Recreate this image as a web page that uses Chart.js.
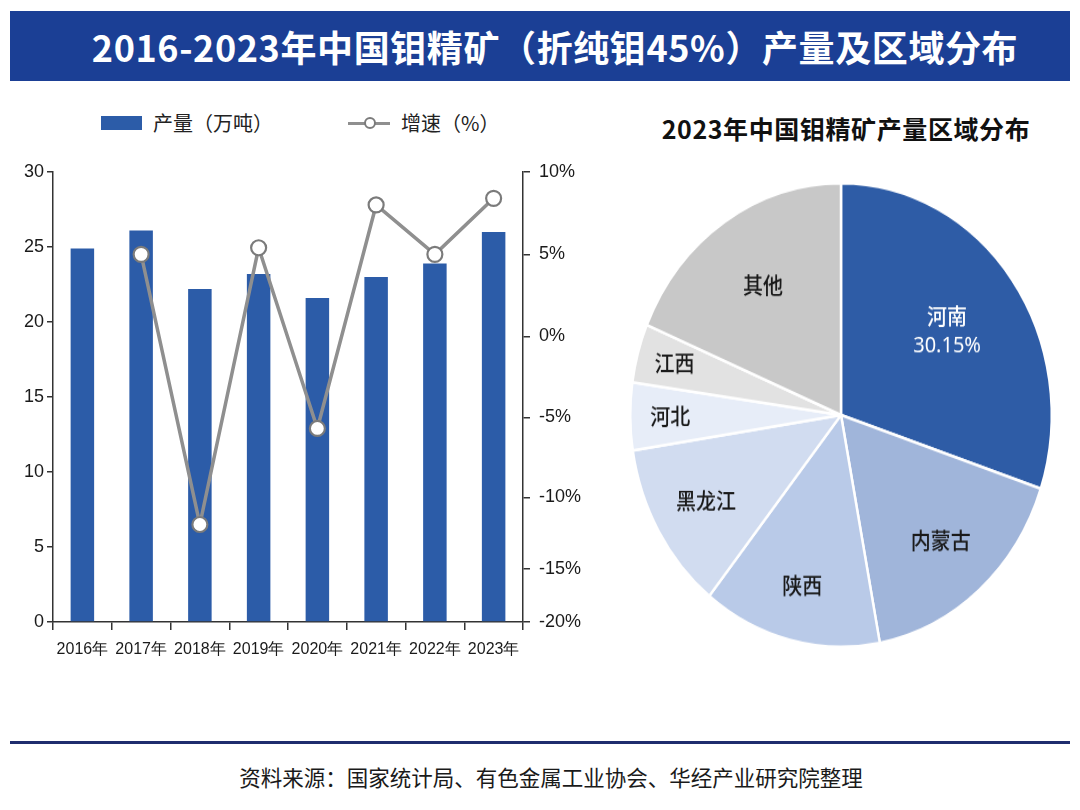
<!DOCTYPE html>
<html>
<head>
<meta charset="utf-8">
<script src="https://cdn.jsdelivr.net/npm/chart.js@4.4.1/dist/chart.umd.min.js"></script>
<style>
  html, body { margin:0; padding:0; background:#fff; width:1080px; height:810px; overflow:hidden;
    font-family:"Noto Sans CJK SC","Noto Sans",sans-serif; }
  .abs { position:absolute; }
  #header { left:10px; top:11px; width:1060px; height:70px; background:#1b3f95; color:#fff;
    font-weight:700; font-size:36px; letter-spacing:0.6px; line-height:70px; text-align:center;
    box-sizing:border-box; padding-left:30px; white-space:nowrap; }
  #pieTitle { left:600px; top:110px; width:492px; text-align:center; font-weight:700; font-size:25px;
    letter-spacing:0.6px; line-height:36px; color:#111; white-space:nowrap; }
  .legText { font-size:20px; line-height:26px; color:#222; white-space:nowrap; }
  #footLine { left:10px; top:741px; width:1060px; height:3px; background:#1f2d6e; }
  #footText { left:0px; top:763px; width:1102px; text-align:center; font-size:21.5px; line-height:28px; color:#1a1a1a; white-space:nowrap; }
  #barWrap { left:0px; top:150px; width:600px; height:520px; }
  #pieWrap { left:621px; top:195px; width:440px; height:440px; transform:scaleY(1.1); transform-origin:50% 50%; }
</style>
</head>
<body>
<div id="header" class="abs">2016-2023年中国钼精矿（折纯钼45%）产量及区域分布</div>
<div id="pieTitle" class="abs">2023年中国钼精矿产量区域分布</div>
<div id="legend"></div>
<div id="barWrap" class="abs"><canvas id="barChart"></canvas></div>
<div id="pieWrap" class="abs"><canvas id="pieChart"></canvas></div>
<div id="footLine" class="abs"></div>
<div id="footText" class="abs">资料来源：国家统计局、有色金属工业协会、华经产业研究院整理</div>

<script>
// ---------------- data ----------------
const years = ['2016年','2017年','2018年','2019年','2020年','2021年','2022年','2023年'];
const output = [24.9, 26.1, 22.2, 23.2, 21.6, 23.0, 23.9, 26.0];          // 万吨
const growth = [null, 5.0, -11.9, 5.4, -5.7, 8.0, 5.0, 8.4];               // %
const seriesNames = ['产量（万吨）', '增速（%）'];
const leftTicks = [0, 5, 10, 15, 20, 25, 30];
const rightTicks = [-20, -15, -10, -5, 0, 5, 10];
const regions = ['河南','内蒙古','陕西','黑龙江','河北','江西','其他'];
const regionShare = [30.15, 16.9, 13.7, 11.8, 4.7, 4.1, 18.65];

// ---------------- styles ----------------
const BAR_COLOR = '#2c5ca8';
const LINE_COLOR = '#8f8f8f';
const PIE_COLORS = ['#2e5ca6','#a0b5da','#b9cae8','#d1dcf0','#e7edf8','#e2e2e2','#c8c8c8'];
const PIE_LABEL_RADIUS = [0.62, 0.72, 0.76, 0.74, 0.81, 0.82, 0.67];
// right axis in the original is not evenly spaced: tick value -> fraction from top
const RIGHT_AXIS_STOPS = [[10,0],[5,0.183],[0,0.3655],[-5,0.545],[-10,0.723],[-15,0.8817],[-20,1]];

class PiecewiseLinearScale extends Chart.LinearScale {
  static id = 'piecewise';
  static defaults = {};
  _fracFromTop(v) {
    const s = RIGHT_AXIS_STOPS;
    if (v >= s[0][0]) return s[0][1] - (v - s[0][0]) / (s[0][0] - s[1][0]) * (s[1][1] - s[0][1]);
    for (let i = 0; i < s.length - 1; i++) {
      const a = s[i], b = s[i+1];
      if (v <= a[0] && v >= b[0]) return a[1] + (a[0] - v) / (a[0] - b[0]) * (b[1] - a[1]);
    }
    const a = s[s.length-2], b = s[s.length-1];
    return b[1] + (b[0] - v) / (a[0] - b[0]) * (b[1] - a[1]);
  }
  getPixelForValue(value) {
    if (value === null || value === undefined || isNaN(value)) return NaN;
    return this.getPixelForDecimal(1 - this._fracFromTop(value));
  }
  getValueForPixel(pixel) {
    const f = 1 - this.getDecimalForPixel(pixel);
    const s = RIGHT_AXIS_STOPS;
    for (let i = 0; i < s.length - 1; i++) {
      const a = s[i], b = s[i+1];
      if (f >= a[1] && f <= b[1]) return a[0] - (f - a[1]) / (b[1] - a[1]) * (a[0] - b[0]);
    }
    return f < 0 ? s[0][0] : s[s.length-1][0];
  }
}
Chart.register(PiecewiseLinearScale);

// ---------------- HTML legend built from series names ----------------
(function buildLegend(){
  const lg = document.getElementById('legend');
  const sw = document.createElement('div');
  sw.className = 'abs';
  Object.assign(sw.style, {left:'101px', top:'116px', width:'41px', height:'14px', background:BAR_COLOR});
  lg.appendChild(sw);
  const t1 = document.createElement('div');
  t1.className = 'abs legText'; t1.style.left = '153px'; t1.style.top = '110px';
  t1.textContent = seriesNames[0]; lg.appendChild(t1);
  const ln = document.createElement('div');
  ln.className = 'abs';
  Object.assign(ln.style, {left:'348px', top:'121.5px', width:'42px', height:'3px', background:LINE_COLOR});
  lg.appendChild(ln);
  const c = document.createElement('div');
  c.className = 'abs';
  Object.assign(c.style, {left:'364px', top:'117px', width:'8px', height:'8px', border:'2px solid #7b7b7b',
    borderRadius:'50%', background:'#fff'});
  lg.appendChild(c);
  const t2 = document.createElement('div');
  t2.className = 'abs legText'; t2.style.left = '401px'; t2.style.top = '110px';
  t2.textContent = seriesNames[1]; lg.appendChild(t2);
})();

// ---------------- bar + line chart ----------------
const AX = '#333';
const tickFont = {family:'"Liberation Sans", Arial, sans-serif', size:18};
new Chart(document.getElementById('barChart'), {
  type: 'bar',
  data: {
    labels: years,
    datasets: [
      {
        type: 'line', label: seriesNames[1], data: growth, yAxisID: 'y1', order: 0,
        borderColor: LINE_COLOR, borderWidth: 3.5, tension: 0, spanGaps: false,
        pointRadius: 7.5, pointBackgroundColor: '#fff', pointBorderColor: '#7b7b7b', pointBorderWidth: 2.2
      },
      {
        type: 'bar', label: seriesNames[0], data: output, yAxisID: 'y', order: 1,
        backgroundColor: BAR_COLOR, categoryPercentage: 0.4, barPercentage: 1.0
      }
    ]
  },
  options: {
    responsive: true, maintainAspectRatio: false, animation: false,
    layout: { padding: { top: 22, left: 0, right: 0, bottom: 0 } },
    plugins: { legend: { display: false }, tooltip: { enabled: false } },
    scales: {
      x: {
        grid: { display: true, offset: true, drawOnChartArea: false, tickLength: 8, color: AX, lineWidth: 1.5 },
        border: { display: true, color: AX, width: 1.5 },
        ticks: { font: {family:'"Liberation Sans", Arial, sans-serif', size:16}, color:'#1a1a1a', padding: 10, maxRotation: 0 },
        afterFit(s) { s.height = 48; }
      },
      y: {
        position: 'left', min: 0, max: 30,
        afterBuildTicks(s) { s.ticks = leftTicks.map(v => ({value: v})); },
        grid: { display: true, drawOnChartArea: false, tickLength: 6, color: AX, lineWidth: 1.5 },
        border: { display: true, color: AX, width: 1.5 },
        ticks: { font: tickFont, color:'#1a1a1a', padding: 3 },
        afterFit(s) { s.width = 53; }
      },
      y1: {
        type: 'piecewise', position: 'right', min: -20, max: 10,
        afterBuildTicks(s) { s.ticks = rightTicks.map(v => ({value: v})); },
        grid: { display: true, drawOnChartArea: false, tickLength: 7, color: AX, lineWidth: 1.5 },
        border: { display: true, color: AX, width: 1.5 },
        ticks: { font: tickFont, color:'#1a1a1a', padding: 9, callback: v => v + '%' },
        afterFit(s) { s.width = 77; }
      }
    }
  }
});

// ---------------- pie chart ----------------
const pieLabelPlugin = {
  id: 'pieLabels',
  afterDatasetsDraw(chart) {
    const ctx = chart.ctx;
    const meta = chart.getDatasetMeta(0);
    const vals = chart.data.datasets[0].data;
    meta.data.forEach((arc, i) => {
      const p = arc.getProps(['x','y','startAngle','endAngle','outerRadius'], true);
      const mid = (p.startAngle + p.endAngle) / 2;
      const r = p.outerRadius * PIE_LABEL_RADIUS[i];
      const x = p.x + Math.cos(mid) * r;
      const y = p.y + Math.sin(mid) * r;
      ctx.save();
      ctx.textAlign = 'center';
      ctx.textBaseline = 'middle';
      if (i === 0) {
        ctx.fillStyle = '#ffffff';
        ctx.font = '500 20px "Noto Sans CJK SC", sans-serif';
        ctx.fillText(chart.data.labels[i], x, y - 13.5);
        ctx.font = '20px "Noto Sans", sans-serif';
        ctx.fillText(vals[i].toFixed(2) + '%', x, y + 13.5);
      } else {
        ctx.fillStyle = '#1a1a1a';
        ctx.font = '500 20px "Noto Sans CJK SC", sans-serif';
        ctx.fillText(chart.data.labels[i], x, y);
      }
      ctx.restore();
    });
  }
};

new Chart(document.getElementById('pieChart'), {
  type: 'pie',
  data: {
    labels: regions,
    datasets: [{ data: regionShare, backgroundColor: PIE_COLORS, borderColor: '#ffffff', borderWidth: 2.5 }]
  },
  options: {
    responsive: true, maintainAspectRatio: false, animation: false,
    layout: { padding: 8 },
    plugins: { legend: { display: false }, tooltip: { enabled: false } }
  },
  plugins: [pieLabelPlugin]
});
</script>
</body>
</html>
